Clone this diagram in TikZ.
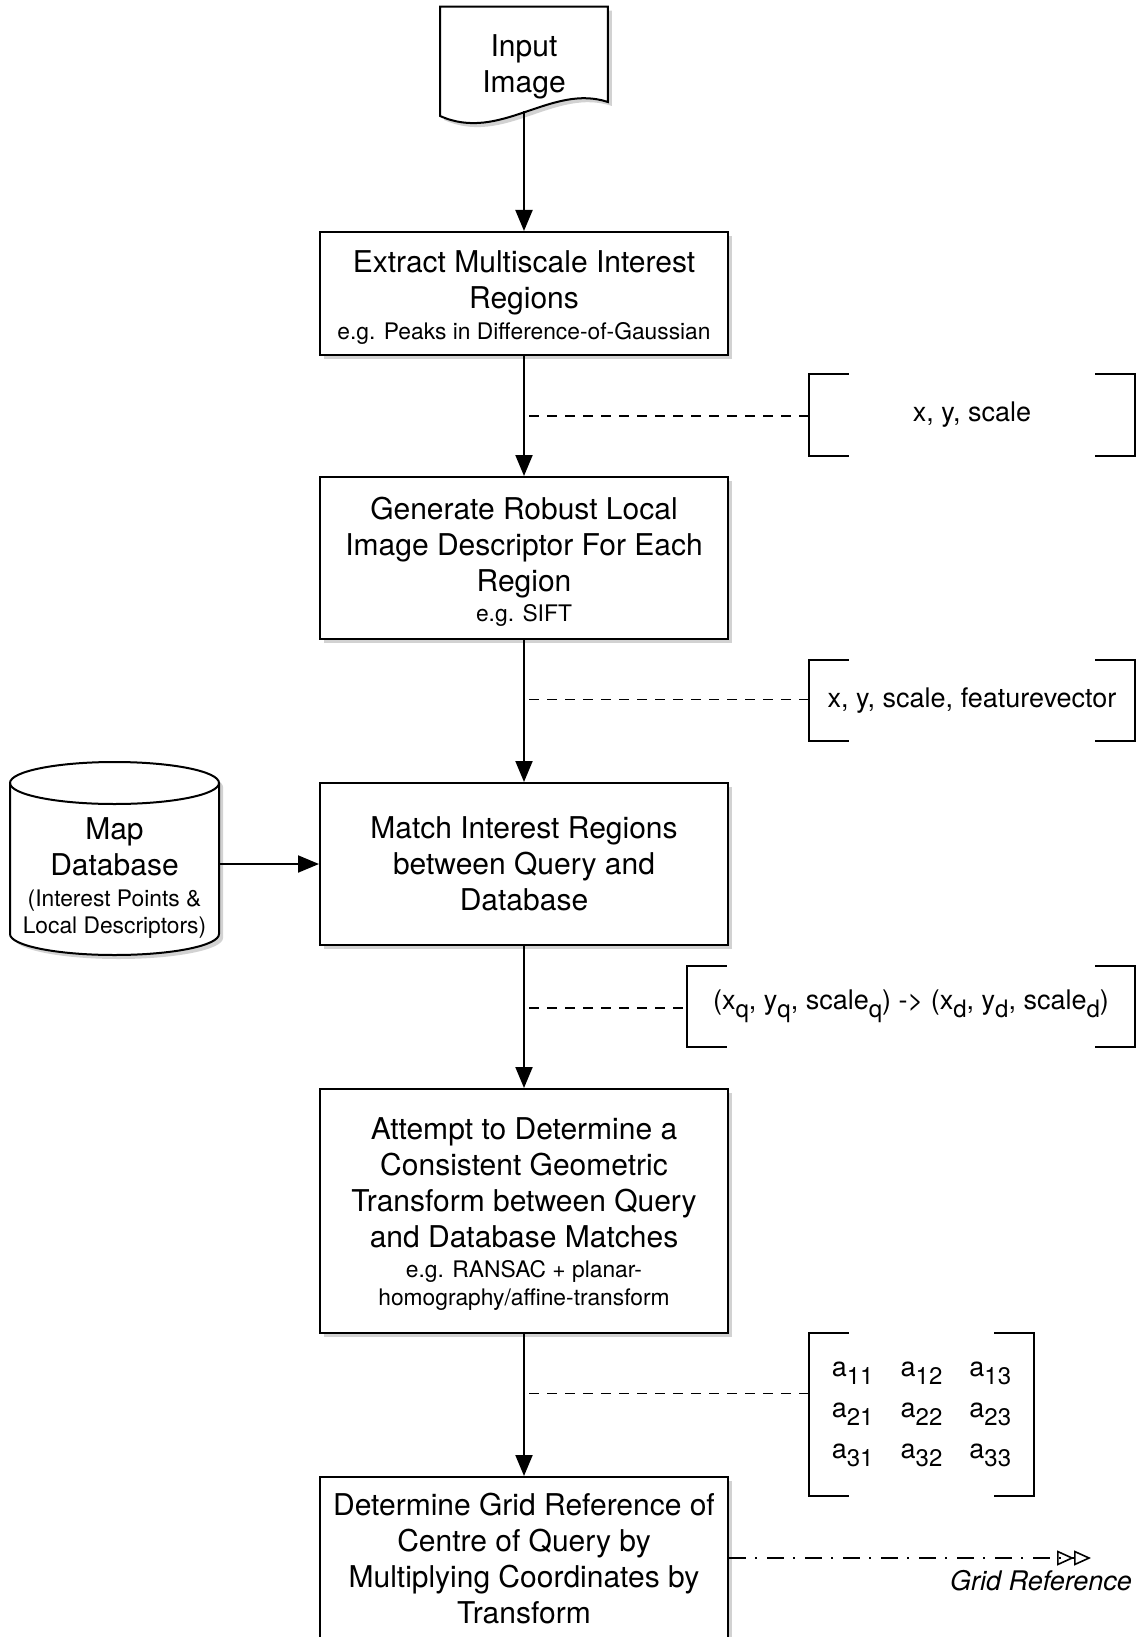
\documentclass[tikz,border=0pt]{standalone}
\usepackage{fontspec}
\setmainfont{TeX Gyre Heros}
\usetikzlibrary{positioning, arrows.meta, shadows, backgrounds}

\newcommand\boxfont{\fontsize{15}{18}\selectfont}
\newcommand\hintfont{\fontsize{11.4}{13.6}\selectfont}
\newcommand\notefont{\fontsize{13.5}{16}\selectfont}
\newcommand\lowidx[1]{\raisebox{-4pt}{\fontsize{12}{14}\selectfont #1}}
\newcommand\padtop[1]{\rule{0pt}{#1}}

\begin{document}
\begin{tikzpicture}[
    x=1pt, y=1pt,
    node distance=71pt,
    boxshadow/.style={drop shadow={shadow xshift=2pt, shadow yshift=-2pt, opacity=0.35}},
    stepbox/.style={draw, line width=1pt, fill=white, minimum width=204pt, inner sep=2pt, align=center, font=\boxfont, boxshadow},
    docbox/.style={minimum width=83.5pt, minimum height=49.5pt, inner sep=0pt, align=center, font=\boxfont},
    dbbox/.style={minimum width=104.5pt, inner sep=0pt, align=center, font=\boxfont},
    outline/.style={line width=1pt, fill=white, boxshadow},
    notebox/.style={inner sep=0pt, font=\notefont},
    matcell/.style={inner sep=0pt, font=\notefont},
    arr/.style={-{Triangle[length=10.5pt, width=8.5pt]}, line width=1pt},
    notedash/.style={dash pattern=on 5pt off 4pt, line width=0.8pt, shorten <=2.5pt},
    brk/.style={line width=1pt},
    gridarr/.style={dash pattern=on 8.5pt off 4.5pt on 1pt off 5pt, line width=0.8pt, -{Triangle[open, length=8.5pt, width=7.5pt]Triangle[open, length=8.5pt, width=7.5pt]}}
]
    \begin{scope}[on background layer]
        \fill[white] (0,0) rectangle (568.5,-818.5);
    \end{scope}
    \useasboundingbox (0,0) rectangle (568.5,-818.5);

    \node[stepbox, minimum height=61.5pt] (extract) at (262,-146.75) {\padtop{15pt}Extract Multiscale Interest\\Regions\\[-2.4pt]{\hintfont e.g. Peaks in Difference-of-Gaussian}};
    \node[docbox] (input) [above=57.25pt of extract] {Input\\Image};
    \node[stepbox, minimum height=81pt] (robust) [below=60pt of extract] {\padtop{15pt}Generate Robust Local\\Image Descriptor For Each\\Region\\[-3pt]{\hintfont e.g. SIFT}};
    \node[stepbox, minimum height=81pt] (match) [below=of robust] {Match Interest Regions\\between Query and\\Database};
    \node[stepbox, minimum height=122pt] (ransac) [below=of match] {\padtop{14pt}Attempt to Determine a\\Consistent Geometric\\Transform between Query\\and Database Matches\\[-3pt]{\hintfont e.g. RANSAC + planar-}\\[-4.4pt]{\hintfont homography/affine-transform}};
    \node[stepbox, minimum height=81pt] (grid) [below=of ransac] {Determine Grid Reference of\\Centre of Query by\\Multiplying Coordinates by\\Transform};

    \node[dbbox] (mapdb) at (57.25,-439) {Map\\Database\\[-2.3pt]{\hintfont (Interest Points \&}\\[-4.4pt]{\hintfont Local Descriptors)}};

    \begin{scope}[on background layer]
        \draw[outline] ([yshift=5pt]input.north west) -- ([yshift=5pt]input.north east) -- ([yshift=7.25pt]input.south east) .. controls +(-28.5pt,9.5pt) and +(30pt,-13.5pt) .. ([yshift=0.25pt]input.south west) -- cycle;
    \end{scope}
    \begin{scope}[on background layer, shift={(mapdb.center)}]
        \draw[outline] (-52.25,47.5) -- (-52.25,-28) arc[start angle=180, end angle=360, x radius=52.25, y radius=10.5] -- (52.25,47.5) arc[start angle=0, end angle=180, x radius=52.25, y radius=10.5] -- cycle;
        \draw[line width=1pt] (-52.25,47.5) arc[start angle=180, end angle=360, x radius=52.25, y radius=10.5];
    \end{scope}

    \node[notebox, minimum width=163pt, minimum height=41pt] (ann1) at (486,-207.5) {x, y, scale};
    \node[notebox, minimum width=163pt, minimum height=40.5pt] (ann2) at (486,-350.25) {x, y, scale, featurevector};
    \node[notebox, minimum width=224pt, minimum height=40.5pt] (ann3) at (455.5,-503.25) {(x\lowidx{q}, y\lowidx{q}, scale\lowidx{q}) -> (x\lowidx{d}, y\lowidx{d}, scale\lowidx{d})};
    \node[notebox, minimum width=112.5pt, minimum height=81.5pt] (ann4) at (460.75,-707.25) {};

    \foreach \r in {1,2,3}
        \foreach \c in {1,2,3}
            \node[matcell] (a\r\c) at ([xshift={(\c-2)*34.4pt}, yshift={(2-\r)*20.6pt}]ann4.center) {a\lowidx{\r\c}};

    \foreach \n in {ann1,ann2,ann3,ann4} {
        \draw[brk] ([xshift=20pt]\n.north west) -- (\n.north west) -- (\n.south west) -- ([xshift=20pt]\n.south west);
        \draw[brk] ([xshift=-20pt]\n.north east) -- (\n.north east) -- (\n.south east) -- ([xshift=-20pt]\n.south east);
    }

    \draw[arr] ([yshift=2.5pt]input.south) -- (extract);
    \draw[arr] (extract) -- coordinate[pos=0.5] (k1) (robust);
    \draw[arr] (robust) -- coordinate[pos=0.42] (k2) (match);
    \draw[arr] (match) -- coordinate[pos=0.435] (k3) (ransac);
    \draw[arr] (ransac) -- coordinate[pos=0.42] (k4) (grid);
    \draw[arr] (match.west -| mapdb.east) -- (match.west);

    \draw[notedash] (k1) -- (k1 -| ann1.west);
    \draw[notedash] (k2) -- (k2 -| ann2.west);
    \draw[notedash] (k3) -- (k3 -| ann3.west);
    \draw[notedash] (k4) -- (k4 -| ann4.west);

    \coordinate (gridout) at ([xshift=181pt]grid.east);
    \draw[gridarr] (grid.east) -- (gridout) node (gridlbl) [below, xshift=-25pt, yshift=-2.5pt, font=\notefont\itshape] {Grid Reference};

\end{tikzpicture}
\end{document}
